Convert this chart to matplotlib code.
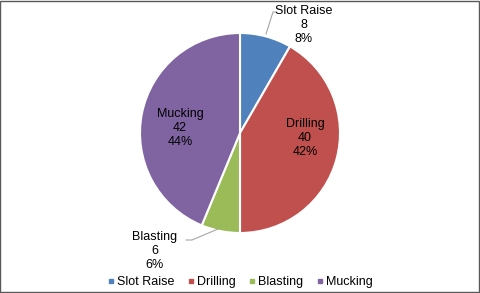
import numpy as np
import matplotlib
matplotlib.use("Agg")
from matplotlib import pyplot as plt
from matplotlib.patches import Rectangle

plt.rcParams['font.family'] = ['Liberation Sans', 'DejaVu Sans']

categories = ["Slot Raise", "Drilling", "Blasting", "Mucking"]
values = [8, 40, 6, 42]
percents = ["8%", "42%", "6%", "44%"]
colors = ["#4F81BD", "#C0504D", "#9BBB59", "#8064A2"]

fig = plt.figure(figsize=(4.8, 2.93), dpi=100)
ax = fig.add_axes([0, 0, 1, 1])

cx, cy, r = 240, 160, 100
wedges, _ = ax.pie(values, colors=colors, startangle=90, counterclock=False,
                   center=(cx, cy), radius=r, frame=True,
                   wedgeprops=dict(edgecolor='white', linewidth=1.5))
ax.set_xlim(0, 480)
ax.set_ylim(0, 293)
ax.set_aspect('equal')
ax.axis('off')

fs = 9
# label positions (text centres)
label_pos = {
    "Slot Raise": (304, 268),
    "Drilling": (305, 155),
    "Blasting": (155, 42),
    "Mucking": (180, 165),
}
for i, name in enumerate(categories):
    x, y = label_pos[name]
    ax.text(x, y, f"{name}\n{values[i]}\n{percents[i]}", ha='center', va='center',
            fontsize=fs, linespacing=1.2, color='black')

# leader lines
ax.plot([275, 273, 266], [281, 281, 259], color='#A6A6A6', lw=0.8)
ax.plot([186, 192, 218], [53, 53, 64], color='#A6A6A6', lw=0.8)

# legend
handles = [plt.Line2D([], [], marker='s', ls='', color=c, markersize=3) for c in colors]
fig.legend(handles, categories, loc='center', bbox_to_anchor=(0.5, 0.037), ncol=4,
           frameon=False, fontsize=fs, handletextpad=0.2, columnspacing=1.0,
           handlelength=0.6)

fig.patches.append(Rectangle((0.001, 0.002), 0.997, 0.995, transform=fig.transFigure,
                             fill=False, edgecolor='#595959', lw=1))
fig.savefig("out.png", dpi=100)
